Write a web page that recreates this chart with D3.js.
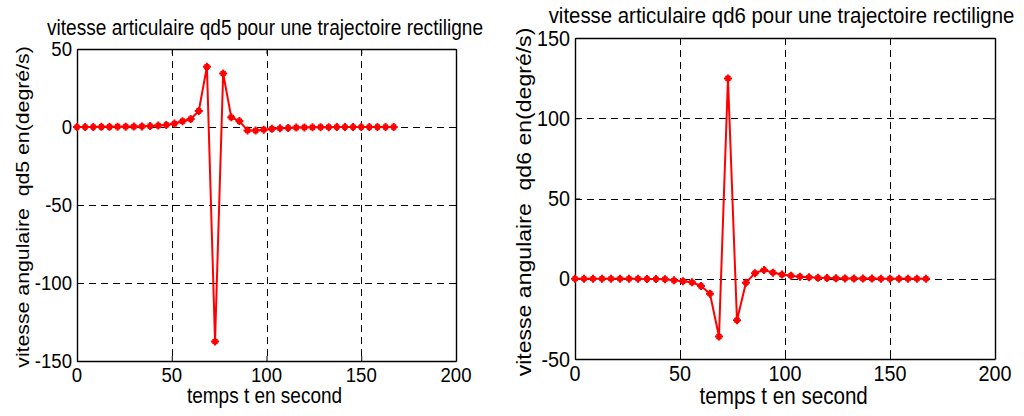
<!DOCTYPE html>
<html>
<head>
<meta charset="utf-8">
<script src="https://cdn.jsdelivr.net/npm/d3@7"></script>
<style>
  body { margin: 0; background: #fff; }
  svg { display: block; }
  text { font-family: "Liberation Sans", Arial, sans-serif; fill: #000; white-space: pre; }
</style>
</head>
<body>
<svg id="fig" width="1024" height="416"></svg>
<script>
// sample times (s)
const time = [0, 4.28, 8.57, 12.85, 17.14, 21.42, 25.71, 29.99, 34.28, 38.56,
  42.85, 47.13, 51.42, 55.70, 59.99, 64.27, 68.56, 72.84, 77.13, 81.41,
  85.70, 89.98, 94.27, 98.55, 102.84, 107.12, 111.41, 115.69, 119.98, 124.26,
  128.55, 132.83, 137.12, 141.40, 145.69, 149.97, 154.26, 158.54, 162.83, 167.11];

// joint speed qd5 (deg/s)
const qd5 = [0, 0, 0, 0.1, 0.1, 0.2, 0.2, 0.3, 0.4, 0.6,
  0.9, 1.3, 2.2, 3.7, 5.1, 10.3, 38.6, -137.5, 34.3, 6.2,
  3.8, -2.2, -2.3, -1.7, -1.2, -0.8, -0.6, -0.4, -0.3, -0.2,
  -0.1, -0.1, 0, 0, 0, 0, 0, 0, 0, 0];

// joint speed qd6 (deg/s)
const qd6 = [0, 0, 0, 0, 0, 0, 0, 0, -0.1, -0.2,
  -0.3, -1.0, -1.5, -2.2, -4.5, -9.3, -36.0, 124.8, -25.8, -2.5,
  3.5, 5.5, 3.8, 2.6, 1.9, 1.3, 0.9, 0.6, 0.4, 0.3,
  0.2, 0.1, 0.1, 0.1, 0, 0, 0, 0, 0, 0];

const xTicks = [0, 50, 100, 150, 200];
const yTicks5 = [-150, -100, -50, 0, 50];
const yTicks6 = [-50, 0, 50, 100, 150];

const svg = d3.select("#fig");

// text helper: fonts are drawn slightly taller than wide
function label(g, x, y, str, size, anchor, sy, rot) {
  g.append("text")
    .attr("transform", `translate(${x},${y}) scale(1,${sy}) rotate(${rot || 0})`)
    .attr("text-anchor", anchor)
    .attr("font-size", size)
    .attr("xml:space", "preserve")
    .text(str);
}

function panel(cfg) {
  const g = svg.append("g");
  const x = d3.scaleLinear().domain([0, 200]).range([cfg.left, cfg.right]);
  const y = d3.scaleLinear().domain(cfg.yDomain).range([cfg.bottom, cfg.top]);
  const sy = cfg.sy;
  const fs = cfg.font;

  // dashed grid
  const grid = g.append("g").attr("stroke", "#000").attr("stroke-width", 1)
    .attr("stroke-dasharray", "7,5");
  xTicks.slice(1, -1).forEach(t => {
    const px = Math.round(x(t)) + 0.5;
    grid.append("line").attr("x1", px).attr("x2", px)
      .attr("y1", cfg.top).attr("y2", cfg.bottom);
  });
  cfg.yTicks.slice(1, -1).forEach(t => {
    const py = Math.round(y(t)) + 0.5;
    grid.append("line").attr("x1", cfg.left).attr("x2", cfg.right)
      .attr("y1", py).attr("y2", py);
  });

  // axes (ticks pointing inward, mirrored on the opposite sides)
  const tickLen = -5;
  const ax = [
    d3.axisBottom(x).tickValues(xTicks).tickFormat("").tickSizeInner(tickLen).tickSizeOuter(0),
    d3.axisTop(x).tickValues(xTicks).tickFormat("").tickSizeInner(tickLen).tickSizeOuter(0),
    d3.axisLeft(y).tickValues(cfg.yTicks).tickFormat("").tickSizeInner(tickLen).tickSizeOuter(0),
    d3.axisRight(y).tickValues(cfg.yTicks).tickFormat("").tickSizeInner(tickLen).tickSizeOuter(0)
  ];
  const pos = [
    `translate(0,${cfg.bottom})`, `translate(0,${cfg.top})`,
    `translate(${cfg.left},0)`, `translate(${cfg.right},0)`
  ];
  ax.forEach((a, i) => {
    const ag = g.append("g").attr("transform", pos[i]).call(a);
    ag.selectAll("path").attr("stroke", "#000").attr("stroke-width", 1.4);
    ag.selectAll("line").attr("stroke", "#000").attr("stroke-width", 1);
  });

  // tick labels
  xTicks.forEach(t => label(g, x(t), cfg.bottom + cfg.xTickDy, String(t), fs.tick, "middle", sy));
  cfg.yTicks.forEach(t => label(g, cfg.left - 5, y(t) + cfg.yTickDy, String(t), fs.tick, "end", sy));

  // series
  const line = d3.line().x(d => x(d[0])).y(d => y(d[1]));
  const pts = time.map((t, i) => [t, cfg.values[i]]);
  g.append("path").datum(pts).attr("d", line)
    .attr("fill", "none").attr("stroke", "#ff0000").attr("stroke-width", 2)
    .attr("stroke-linejoin", "round");

  const m = 4;
  const star = `M${-m},0L${m},0M0,${-m}L0,${m}M${-m*0.6},${-m*0.6}L${m*0.6},${m*0.6}M${-m*0.6},${m*0.6}L${m*0.6},${-m*0.6}`;
  g.append("g").selectAll("path").data(pts).join("path")
    .attr("transform", d => `translate(${x(d[0])},${y(d[1])})`)
    .attr("d", star).attr("fill", "none").attr("stroke", "#ff0000").attr("stroke-width", 2);

  // titles
  label(g, cfg.titleX, cfg.titleY, cfg.title, fs.title, "middle", sy);
  label(g, cfg.xLabelX, cfg.xLabelY, "temps t en second", fs.label, "middle", sy);
  label(g, cfg.yLabelX, cfg.yLabelY, cfg.yLabel, fs.label, "middle", sy, -90);
}

panel({
  left: 77, right: 456, top: 49, bottom: 361,
  yDomain: [-150, 50], yTicks: yTicks5, values: qd5,
  sy: 1.12,
  font: { tick: 18.6, title: 19.1, label: 19 },
  xTickDy: 21, yTickDy: 7,
  title: "vitesse articulaire qd5 pour une trajectoire rectiligne", titleX: 265, titleY: 34.5,
  xLabelX: 264.5, xLabelY: 403,
  yLabel: "vitesse angulaire  qd5 en(degré/s)", yLabelX: 29, yLabelY: 207
});

panel({
  left: 575, right: 995, top: 38, bottom: 359,
  yDomain: [-50, 150], yTicks: yTicks6, values: qd6,
  sy: 1.12,
  font: { tick: 19.8, title: 20.4, label: 20.6 },
  xTickDy: 22, yTickDy: 7.5,
  title: "vitesse articulaire qd6 pour une trajectoire rectiligne", titleX: 781.5, titleY: 22.5,
  xLabelX: 783.7, xLabelY: 404,
  yLabel: "vitesse angulaire  qd6 en(degré/s)", yLabelX: 531, yLabelY: 202
});
</script>
</body>
</html>
